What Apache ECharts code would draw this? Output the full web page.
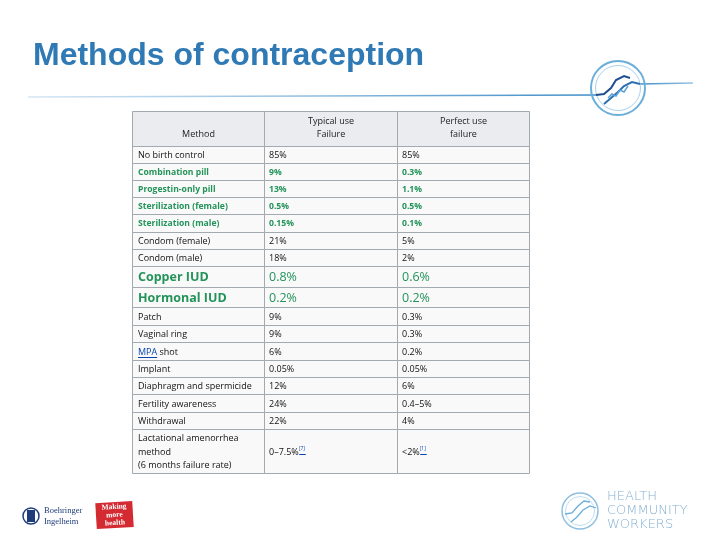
<!DOCTYPE html>
<html><head><meta charset="utf-8">
<script src="https://cdn.jsdelivr.net/npm/echarts@6/dist/echarts.min.js"></script>
<style>html,body{margin:0;padding:0;background:#fff}#c{width:720px;height:540px}</style>
</head><body><div id="c"></div>
<script>
// ---- data ----
const headers = ['Method', 'Typical use\nFailure', 'Perfect use\nfailure'];
const methods = ['No birth control','Combination pill','Progestin-only pill','Sterilization (female)','Sterilization (male)','Condom (female)','Condom (male)','Copper IUD','Hormonal IUD','Patch','Vaginal ring','MPA shot','Implant','Diaphragm and spermicide','Fertility awareness','Withdrawal','Lactational amenorrhea\nmethod\n(6 months failure rate)'];
const typicalUse = ['85%','9%','13%','0.5%','0.15%','21%','18%','0.8%','0.2%','9%','9%','6%','0.05%','12%','24%','22%','0–7.5%'];
const perfectUse = ['85%','0.3%','1.1%','0.5%','0.1%','5%','2%','0.6%','0.2%','0.3%','0.3%','0.2%','0.05%','6%','0.4–5%','4%','<2%'];
const typicalNotes = ['','','','','','','','','','','','','','','','','[7]'];
const perfectNotes = ['','','','','','','','','','','','','','','','','[1]'];

// ---- layout / style (not data) ----
const rowHeights = [34.5,17.2,17.2,17.2,17.2,17.2,17.2,17.2,21,20.5,17.35,17.35,17.35,17.35,17.35,17.35,17.35,44];
const bounds = [0];
rowHeights.forEach(h => bounds.push(bounds[bounds.length-1] + h));
const total = bounds[bounds.length-1];
const greenSmall = new Set([1,2,3,4]);
const greenLarge = new Set([7,8]);
const linkRows = new Set([11]);
const FONT = '"Open Sans", "DejaVu Sans", sans-serif';
const GREEN = '#23935a';

const ctx = document.createElement('canvas').getContext('2d');
function measure(t, size, weight){ ctx.font = (weight||'normal') + ' ' + size + 'px "Open Sans"'; return ctx.measureText(t).width; }

const cells = [];
for (let r = 0; r <= methods.length; r++) for (let c = 0; c < 3; c++) cells.push([c, r]);

function cellText(c, r){
  if (r === 0) return headers[c];
  const i = r - 1;
  return c === 0 ? methods[i] : (c === 1 ? typicalUse[i] : perfectUse[i]);
}

function renderItem(params, api){
  const c = api.value(0), r = api.value(1);
  const p0 = api.coord([c, bounds[r]]);
  const p1 = api.coord([c + 1, bounds[r + 1]]);
  const x0 = Math.round(p0[0]) + 0.5, y0 = Math.round(p0[1]) + 0.5;
  const x1 = Math.round(p1[0]) + 0.5, y1 = Math.round(p1[1]) + 0.5;
  const children = [{
    type: 'rect',
    shape: {x: x0, y: y0, width: x1 - x0, height: y1 - y0},
    style: {fill: r === 0 ? '#eaecf0' : '#f9f9f9', stroke: '#a2a9b1', lineWidth: 1}
  }];
  const txt = cellText(c, r);
  if (r === 0) {
    children.push({type: 'text', style: {text: txt, x: (x0 + x1) / 2, y: y1 - 6, align: 'center', verticalAlign: 'bottom',
      fill: '#222', fontSize: 9, lineHeight: 12.5, fontFamily: FONT}});
  } else {
    const i = r - 1;
    let fill = '#111', size = 9, weight = 'normal';
    if (greenSmall.has(i)) { fill = GREEN; weight = 'bold'; size = 8.6; }
    if (greenLarge.has(i)) { fill = GREEN; size = 12.5; weight = c === 0 ? 'bold' : 'normal'; }
    const tx = x0 + (c === 0 ? 5.5 : 4.5);
    const ty = (y0 + y1) / 2 + 0.5;
    const note = c === 1 ? typicalNotes[i] : (c === 2 ? perfectNotes[i] : '');
    if (linkRows.has(i) && c === 0) {
      const parts = txt.split(' ');
      const w = measure(parts[0], size);
      children.push({type: 'text', style: {text: '{l|' + parts[0] + '} ' + parts.slice(1).join(' '), x: tx, y: ty, verticalAlign: 'middle',
        fill: fill, fontSize: size, fontFamily: FONT, rich: {l: {fill: '#0645ad', fontSize: size, fontFamily: FONT}}}});
      children.push({type: 'line', shape: {x1: tx, y1: ty + 5.5, x2: tx + w, y2: ty + 5.5}, style: {stroke: '#0645ad', lineWidth: 1}});
    } else if (note) {
      const w = measure(txt, size);
      children.push({type: 'text', style: {text: txt + '{n|' + note + '}', x: tx, y: ty, verticalAlign: 'middle',
        fill: fill, fontSize: size, fontFamily: FONT, rich: {n: {fill: '#0645ad', fontSize: 5, fontFamily: FONT, verticalAlign: 'top', padding: [0,0,6,0]}}}});
      children.push({type: 'line', shape: {x1: tx + w + 0.5, y1: ty + 2.5, x2: tx + w + 7, y2: ty + 2.5}, style: {stroke: '#0645ad', lineWidth: 1}});
    } else {
      children.push({type: 'text', style: {text: txt, x: tx, y: ty, verticalAlign: 'middle', fill: fill, fontSize: size,
        fontWeight: weight, fontFamily: FONT, lineHeight: 13.2}});
    }
  }
  return {type: 'group', children: children};
}

const chart = echarts.init(document.getElementById('c'), null, {renderer: 'canvas'});
chart.setOption({
  backgroundColor: '#ffffff',
  animation: false,
  title: {text: 'Methods of contraception', left: 28, top: 35,
    textStyle: {fontFamily: '"Liberation Sans", Arial, sans-serif', fontSize: 32, fontWeight: 'bold', color: '#2f7ab4'}},
  grid: {left: 132, top: 111, width: 397, height: 362},
  xAxis: {type: 'value', min: 0, max: 3, show: false},
  yAxis: {type: 'value', min: 0, max: total, inverse: true, show: false},
  series: [{type: 'custom', renderItem: renderItem, data: cells, clip: false, silent: true}],
  graphic: [
    // header rule
    {type: 'line', shape: {x1: 28, y1: 97, x2: 596, y2: 95},
      style: {lineWidth: 1.6, stroke: new echarts.graphic.LinearGradient(0, 0, 1, 0, [{offset: 0, color: '#d6e6f3'}, {offset: 0.5, color: '#8fbde0'}, {offset: 1, color: '#3d8cc8'}])}},
    {type: 'line', shape: {x1: 640, y1: 84, x2: 693, y2: 83},
      style: {lineWidth: 1.6, stroke: new echarts.graphic.LinearGradient(0, 0, 1, 0, [{offset: 0, color: '#3d8cc8'}, {offset: 1, color: '#9cc6e6'}])}},
    // top-right logo
    {type: 'circle', shape: {cx: 618, cy: 88, r: 27}, style: {fill: 'none', stroke: '#6aaedb', lineWidth: 2}},
    {type: 'circle', shape: {cx: 618, cy: 88, r: 22.5}, style: {fill: 'none', stroke: '#a8d0ec', lineWidth: 1}},
    {type: 'polyline', shape: {points: [[596, 95], [604, 94], [611, 88], [616, 80], [624, 76], [630, 78]]}, style: {stroke: '#1f4f8f', lineWidth: 2, fill: 'none'}},
    {type: 'polyline', shape: {points: [[604, 104], [611, 98], [618, 92], [624, 86], [632, 82], [640, 84]]}, style: {stroke: '#2d6fb0', lineWidth: 2, fill: 'none'}},
    {type: 'polyline', shape: {points: [[608, 98], [612, 94], [616, 96], [620, 90], [624, 92], [628, 86]]}, style: {stroke: '#5aa2d8', lineWidth: 1.5, fill: 'none'}},
    // bottom-left Boehringer
    {type: 'circle', shape: {cx: 31, cy: 516, r: 8}, style: {fill: 'none', stroke: '#1f3d7a', lineWidth: 1.5}},
    {type: 'rect', shape: {x: 27, y: 510, width: 8, height: 12}, style: {fill: '#1f3d7a'}},
    {type: 'text', style: {text: 'Boehringer\nIngelheim', x: 44, y: 516, verticalAlign: 'middle', fill: '#1f3d7a',
      fontSize: 8.5, lineHeight: 11, fontFamily: '"Liberation Serif", serif'}},
    {type: 'rect', rotation: 0.06, originX: 115, originY: 515, shape: {x: 96, y: 502, width: 37, height: 26}, style: {fill: '#d42a32'}},
    {type: 'text', rotation: 0.06, originX: 115, originY: 515, style: {text: 'Making\nmore\nhealth', x: 114.5, y: 515, align: 'center', verticalAlign: 'middle',
      fill: '#fff', fontSize: 7.5, lineHeight: 8, fontWeight: 'bold', fontFamily: '"Liberation Serif", serif'}},
    // bottom-right Health Community Workers
    {type: 'circle', shape: {cx: 580, cy: 511, r: 18}, style: {fill: 'none', stroke: '#8ebfe0', lineWidth: 1.5}},
    {type: 'circle', shape: {cx: 580, cy: 511, r: 14.5}, style: {fill: 'none', stroke: '#c0dcef', lineWidth: 1}},
    {type: 'polyline', shape: {points: [[565, 514], [572, 513], [578, 506], [584, 501], [590, 502]]}, style: {stroke: '#6aaedb', lineWidth: 1.3, fill: 'none'}},
    {type: 'polyline', shape: {points: [[571, 522], [577, 517], [583, 510], [590, 506], [596, 508]]}, style: {stroke: '#6aaedb', lineWidth: 1.3, fill: 'none'}},
    {type: 'text', style: {text: 'HEALTH\nCOMMUNITY\nWORKERS', x: 607, y: 511, verticalAlign: 'middle', fill: '#86b0d2',
      fontSize: 13, lineHeight: 14, fontFamily: '"DejaVu Sans", sans-serif', fontWeight: 200}}
  ]
});
</script></body></html>
